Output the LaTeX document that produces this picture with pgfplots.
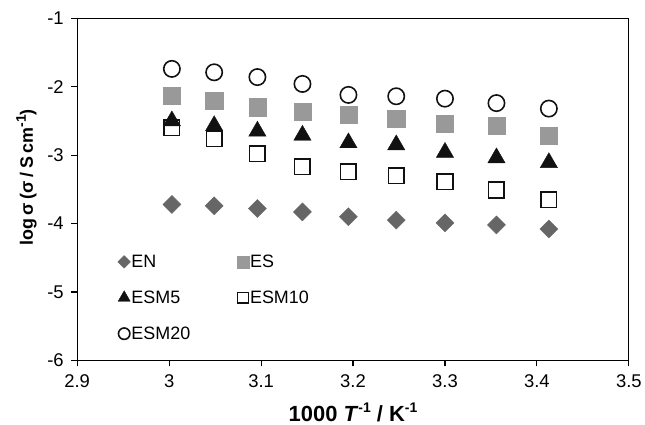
\documentclass[border=0pt]{standalone}
\usepackage{fontspec}
\setmainfont{Liberation Sans}
\usepackage{pgfplots}
\pgfplotsset{compat=1.18}
\definecolor{engray}{HTML}{666666}
\definecolor{esgray}{HTML}{999999}
\definecolor{dark}{HTML}{111111}
\newcommand{\supr}[1]{\raisebox{0.75ex}{\fontsize{14}{14}\selectfont #1}}
\newcommand{\ts}{\hspace{0.2em}}
\begin{document}
\begin{tikzpicture}
\begin{axis}[
  name=ax,
  scale only axis,
  width=554pt, height=343.7pt,
  xmin=2.9, xmax=3.5, ymin=-6, ymax=-1,
  xtick={2.9,3,3.1,3.2,3.3,3.4,3.5},
  ytick={-6,-5,-4,-3,-2,-1},
  tick align=outside,
  major tick length=6pt,
  xtick pos=left, ytick pos=left,
  axis line style={line width=1.1pt},
  tick style={line width=1.1pt, black},
  /pgf/number format/assume math mode=true,
  ticklabel style={font=\fontsize{18.5}{20}\selectfont},
  xticklabel style={yshift=-5pt},
  yticklabel style={xshift=-4pt},
  xlabel={\textbf{1000 \textit{T}\supr{-1} / K\supr{-1}}},
  ylabel={\textbf{log\ts σ\ts (σ\ts /\ts S\ts cm\supr{-1})}},
  xlabel style={at={(axis description cs:0.5,0)}, anchor=center, yshift=-52pt, font=\fontsize{22}{24}\selectfont},
  ylabel style={at={(axis description cs:-0.092,0.535)}, anchor=center, font=\fontsize{18}{20}\selectfont},
  clip=false,
  legend columns=2,
  legend cell align=left,
  legend style={draw=none, fill=none, at={(axis description cs:0.068,0.318)}, anchor=north west,
    font=\fontsize{18}{20}\selectfont, row sep=20pt,
    /tikz/every even column/.style={column sep=46pt},
    nodes={inner sep=1pt}},
  legend image code/.code={\draw[#1, /tikz/every mark/.append style={scale=0.7}] plot coordinates {(0pt,0pt)};},
]
\addplot[only marks, mark=square*, mark size=6.4pt, mark options={rotate=45, fill=engray, draw=engray}] coordinates {
(3.003,-3.72) (3.049,-3.74) (3.096,-3.78) (3.145,-3.83) (3.195,-3.90)
(3.247,-3.95) (3.300,-3.99) (3.356,-4.02) (3.413,-4.08)};
\addlegendentry{EN}
\addplot[only marks, mark=square*, mark size=8.6pt, mark options={fill=esgray, draw=esgray}] coordinates {
(3.003,-2.13) (3.049,-2.21) (3.096,-2.30) (3.145,-2.36) (3.195,-2.41)
(3.247,-2.47) (3.300,-2.54) (3.356,-2.57) (3.413,-2.71)};
\addlegendentry{ES}
\addplot[only marks, mark=triangle*, mark size=10pt, mark options={fill=dark, draw=dark}] coordinates {
(3.003,-2.50) (3.049,-2.57) (3.096,-2.65) (3.145,-2.71) (3.195,-2.82)
(3.247,-2.85) (3.300,-2.96) (3.356,-3.04) (3.413,-3.11)};
\addlegendentry{ESM5}
\addplot[only marks, mark=square, mark size=7.8pt, mark options={draw=dark, line width=1.6pt, fill=white}] coordinates {
(3.003,-2.60) (3.049,-2.76) (3.096,-2.98) (3.145,-3.17) (3.195,-3.24)
(3.247,-3.30) (3.300,-3.39) (3.356,-3.51) (3.413,-3.65)};
\addlegendentry{ESM10}
\addplot[only marks, mark=o, mark size=8.2pt, mark options={draw=dark, line width=1.6pt}] coordinates {
(3.003,-1.74) (3.049,-1.79) (3.096,-1.86) (3.145,-1.96) (3.195,-2.12)
(3.247,-2.14) (3.300,-2.175) (3.356,-2.24) (3.413,-2.32)};
\addlegendentry{ESM20}
\end{axis}
\path ([xshift=-77.5pt,yshift=-62pt]ax.south west) rectangle ([xshift=13.3pt,yshift=18.3pt]ax.north east);
\end{tikzpicture}
\end{document}
